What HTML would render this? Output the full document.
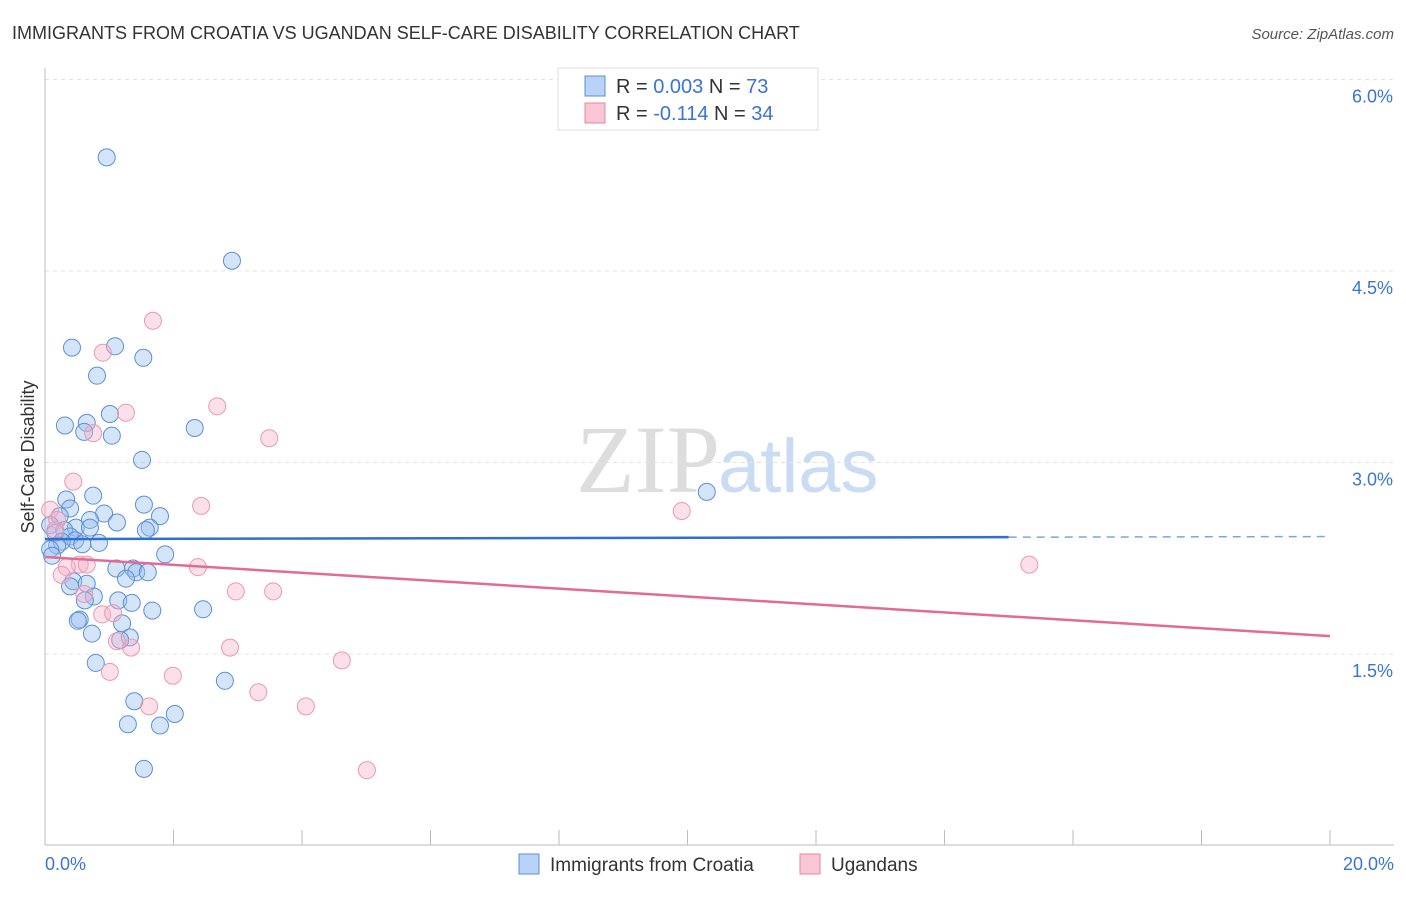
<!DOCTYPE html>
<html><head><meta charset="utf-8"><style>
body{margin:0;background:#fff;font-family:"Liberation Sans",sans-serif}
</style></head><body>
<svg id="c" width="1406" height="892" xmlns="http://www.w3.org/2000/svg">
<text x="12" y="39" font-size="18" fill="#333">IMMIGRANTS FROM CROATIA VS UGANDAN SELF-CARE DISABILITY CORRELATION CHART</text>
<text x="1394" y="39" font-size="15" fill="#555" font-style="italic" text-anchor="end">Source: ZipAtlas.com</text>
<text x="720" y="492" font-size="96" fill="#ddd" text-anchor="end" font-family="Liberation Serif">ZIP</text>
<text x="718" y="492" font-size="76" fill="#c9dcf3">atlas</text>
<g id="grid"></g><g id="axes"></g><g id="pts"></g><g id="trend"></g>
<text transform="translate(34,457) rotate(-90)" font-size="18" fill="#333" text-anchor="middle">Self-Care Disability</text>
<g>
<rect x="558" y="68" width="260" height="62" fill="#fff" stroke="#ddd"/>
<rect x="585" y="76" width="20" height="20" fill="#b8d3f5" stroke="#5b8fd6"/>
<rect x="585" y="103" width="20" height="20" fill="#f8c6d5" stroke="#e6849f"/>
<text x="616" y="93" font-size="20" fill="#333">R = <tspan fill="#3a74d6">0.003</tspan>   N = <tspan fill="#3a74d6">73</tspan></text>
<text x="616" y="120" font-size="20" fill="#333">R = <tspan fill="#3a74d6">-0.114</tspan>   N = <tspan fill="#3a74d6">34</tspan></text>
</g>
<g>
<rect x="519" y="854" width="20" height="20" fill="#b8d3f5" stroke="#5b8fd6"/>
<text x="550" y="871" font-size="19" fill="#333">Immigrants from Croatia</text>
<rect x="800" y="854" width="20" height="20" fill="#f8c6d5" stroke="#e6849f"/>
<text x="831" y="871" font-size="19" fill="#333">Ugandans</text>
</g>
</svg>
<script>
const yTicks=[1.5,3.0,4.5,6.0];
const yTickLabels=["1.5%","3.0%","4.5%","6.0%"];
const xTickLabels=["0.0%","20.0%"];
const croatiaX=[0.96,2.91,0.42,1.09,1.53,0.81,1.01,0.65,0.31,0.61,1.04,2.33,1.51,10.30,0.75,0.33,0.39,1.54,0.92,1.79,0.23,0.70,1.12,0.08,0.48,0.70,1.63,1.57,0.30,0.16,0.39,0.47,0.26,0.84,0.58,0.19,0.08,0.11,1.87,1.11,1.37,1.42,1.60,1.26,0.44,0.65,0.39,0.76,0.62,1.14,1.35,2.46,1.67,0.54,0.51,1.20,0.73,1.32,1.17,0.79,2.80,1.39,2.02,1.29,1.79,1.54];
const croatiaY=[5.39,4.58,3.90,3.91,3.82,3.68,3.38,3.31,3.29,3.24,3.21,3.27,3.02,2.77,2.74,2.71,2.64,2.67,2.60,2.58,2.58,2.55,2.53,2.51,2.49,2.49,2.49,2.47,2.47,2.45,2.42,2.39,2.38,2.37,2.36,2.35,2.32,2.27,2.28,2.17,2.17,2.14,2.14,2.09,2.07,2.05,2.03,1.95,1.92,1.92,1.90,1.85,1.84,1.77,1.76,1.74,1.66,1.63,1.61,1.43,1.29,1.13,1.03,0.95,0.94,0.60];
const ugandaX=[1.68,0.90,1.26,2.68,0.75,3.49,0.44,2.43,9.91,0.08,0.19,0.16,0.54,0.65,0.34,2.38,15.32,0.26,2.97,3.55,0.61,0.89,1.06,1.12,1.34,2.88,4.62,1.01,1.99,3.32,1.62,4.06,5.01];
const ugandaY=[4.11,3.86,3.39,3.44,3.23,3.19,2.85,2.66,2.62,2.63,2.55,2.47,2.20,2.20,2.18,2.18,2.20,2.12,1.99,1.99,1.97,1.81,1.82,1.60,1.55,1.55,1.45,1.36,1.33,1.20,1.09,1.09,0.59];
const croatiaTrend=[2.40,2.42];
const ugandaTrend=[2.26,1.64];
const NS="http://www.w3.org/2000/svg";
const X=v=>45+v*64.25, Y=v=>845.5-v*127.67;
function mk(t,a,p){const e=document.createElementNS(NS,t);for(const k in a)e.setAttribute(k,a[k]);document.getElementById(p).appendChild(e);return e;}
yTicks.forEach((t,i)=>{
 const l=mk('line',{x1:45,x2:1394,y1:Y(t),y2:Y(t),stroke:'#e2e2e2','stroke-dasharray':'4,4'},'grid');
 
 
 const tx=mk('text',{x:1393,y:Y(t)+23,'font-size':18,fill:'#3a74d6','text-anchor':'end'},'axes');
 tx.textContent=yTickLabels[i];
 
 
});
const al=mk('line',{x1:45,x2:45,y1:68,y2:845,stroke:'#bbb'},'axes');


const bl=mk('line',{x1:45,x2:1394,y1:845,y2:845,stroke:'#bbb'},'axes');


for(let i=0;i<=10;i++){
 const t=mk('line',{x1:X(i*2),x2:X(i*2),y1:830,y2:845,stroke:'#bbb'},'axes');
 
 
}
[[0,45,'start'],[20,1394,'end']].forEach((d,i)=>{
 const t=mk('text',{x:d[1],y:870,'font-size':18,fill:'#3a74d6','text-anchor':d[2]},'axes');
 t.textContent=xTickLabels[i];
 
 
});
croatiaX.forEach((x,i)=>{
 const c=mk('circle',{cx:X(x),cy:Y(croatiaY[i]),r:8.5,fill:'rgba(150,190,240,0.4)',stroke:'#5b8fd6','stroke-width':1},'pts');
 
 
});
ugandaX.forEach((x,i)=>{
 const c=mk('circle',{cx:X(x),cy:Y(ugandaY[i]),r:8.5,fill:'rgba(245,175,200,0.4)',stroke:'#e89ab2','stroke-width':1},'pts');
 
 
});
const bx=v=>croatiaTrend[0]+(croatiaTrend[1]-croatiaTrend[0])*v/20;
let t1=mk('line',{x1:X(0),y1:Y(bx(0)),x2:X(15),y2:Y(bx(15)),stroke:'#2f6fd0','stroke-width':2.5},'trend');


let t2=mk('line',{x1:X(15),y1:Y(bx(15)),x2:X(20),y2:Y(bx(20)),stroke:'#7aa6e0','stroke-width':1.5,'stroke-dasharray':'8,6'},'trend');


let t3=mk('line',{x1:X(0),y1:Y(ugandaTrend[0]),x2:X(20),y2:Y(ugandaTrend[1]),stroke:'#e36a94','stroke-width':2.5},'trend');


</script>
</body></html>
